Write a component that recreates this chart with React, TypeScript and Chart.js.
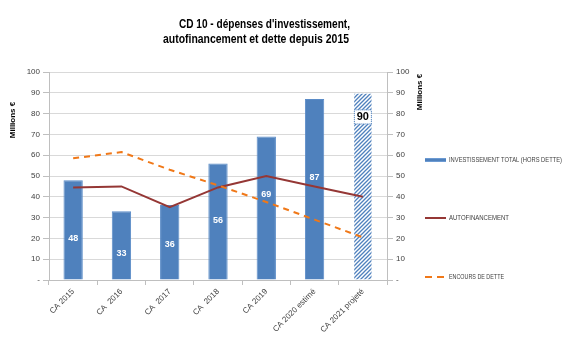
import { useEffect, useRef } from 'react';
import { Chart, registerables } from 'chart.js';
Chart.register(...registerables);

const categories = ['CA 2015', 'CA  2016', 'CA  2017', 'CA  2018', 'CA 2019', 'CA 2020 estimé', 'CA 2021 projeté'];
const investissement = [48, 33, 36, 56, 69, 87, 90];
const autofinancement = [44.5, 45, 35, 44.5, 50, 45, 40];
const encoursDette = [58.5, 61.5, 53, 45.5, 37.5, 29, 20.5];
const yTickValues = [0, 10, 20, 30, 40, 50, 60, 70, 80, 90, 100];
const titleLines = ["CD 10 - dépenses d'investissement,", 'autofinancement et dette depuis 2015'];
const legendLabels = ['INVESTISSEMENT TOTAL (HORS DETTE)', 'AUTOFINANCEMENT', 'ENCOURS DE DETTE'];
const axisTitle = 'Millions €';

// value-unit height at which each bar's label sits
const labelAnchors = [20, 13, 17.3, 28.8, 41.3, 49.5, 78.4];

const FONT = '"Liberation Sans", Arial, sans-serif';
const BLUE = '#4F81BD';
const RED = '#953735';
const ORANGE = '#F07818';

function makePattern(): CanvasPattern | string {
  const c = document.createElement('canvas');
  c.width = 4;
  c.height = 4;
  const g = c.getContext('2d');
  if (!g) return BLUE;
  g.fillStyle = '#ffffff';
  g.fillRect(0, 0, 4, 4);
  g.strokeStyle = BLUE;
  g.lineWidth = 1.3;
  g.beginPath();
  g.moveTo(-1, 5);
  g.lineTo(5, -1);
  g.moveTo(-1, 1);
  g.lineTo(1, -1);
  g.moveTo(3, 5);
  g.lineTo(5, 3);
  g.stroke();
  return g.createPattern(c, 'repeat') || BLUE;
}

const decorPlugin = {
  id: 'decor',
  afterDatasetsDraw(chart: any) {
    const ctx: CanvasRenderingContext2D = chart.ctx;
    const y = chart.scales.y;
    const meta = chart.getDatasetMeta(0);
    ctx.save();
    // bar labels
    meta.data.forEach((bar: any, i: number) => {
      const px = bar.x;
      const py = y.getPixelForValue(labelAnchors[i]);
      const txt = String(investissement[i]);
      if (i === investissement.length - 1) {
        ctx.fillStyle = '#ffffff';
        ctx.fillRect(px - 8.5, py - 7, 17, 14);
        ctx.setLineDash([1, 1]);
        ctx.strokeStyle = BLUE;
        ctx.lineWidth = 1;
        ctx.strokeRect(px - 8.5, py - 7, 17, 14);
        ctx.setLineDash([]);
        ctx.fillStyle = '#000000';
        ctx.font = `bold 11px ${FONT}`;
      } else {
        ctx.fillStyle = '#ffffff';
        ctx.font = `bold 9px ${FONT}`;
      }
      ctx.textAlign = 'center';
      ctx.textBaseline = 'middle';
      ctx.fillText(txt, px, py + 0.5);
    });
    ctx.restore();
  },
  afterDraw(chart: any) {
    const ctx: CanvasRenderingContext2D = chart.ctx;
    ctx.save();
    // title
    ctx.fillStyle = '#000000';
    ctx.font = `bold 12px ${FONT}`;
    ctx.textAlign = 'left';
    ctx.textBaseline = 'middle';
    ctx.fillText(titleLines[0], 179, 25, 171);
    ctx.fillText(titleLines[1], 163, 40, 186);

    // axis titles
    ctx.font = `bold 8px ${FONT}`;
    ctx.fillStyle = '#000000';
    ctx.save();
    ctx.translate(13, 120);
    ctx.rotate(-Math.PI / 2);
    ctx.textAlign = 'center';
    ctx.fillText(axisTitle, 0, 0);
    ctx.restore();
    ctx.save();
    ctx.translate(420, 92);
    ctx.rotate(-Math.PI / 2);
    ctx.textAlign = 'center';
    ctx.fillText(axisTitle, 0, 0);
    ctx.restore();

    // legend
    const lx0 = 425;
    const lx1 = 446;
    const ys = [160, 218, 277];
    // bar marker
    ctx.fillStyle = '#6C9AD2';
    ctx.fillRect(lx0, ys[0] - 2, lx1 - lx0, 4);
    ctx.fillStyle = BLUE;
    ctx.fillRect(lx0, ys[0] - 1, lx1 - lx0, 2);
    // autofinancement
    ctx.strokeStyle = RED;
    ctx.lineWidth = 2;
    ctx.beginPath();
    ctx.moveTo(lx0, ys[1]);
    ctx.lineTo(lx1, ys[1]);
    ctx.stroke();
    // encours
    ctx.strokeStyle = ORANGE;
    ctx.beginPath();
    ctx.moveTo(lx0, ys[2]);
    ctx.lineTo(lx0 + 7, ys[2]);
    ctx.moveTo(lx0 + 12, ys[2]);
    ctx.lineTo(lx0 + 19, ys[2]);
    ctx.stroke();

    ctx.fillStyle = '#404040';
    ctx.font = `7px ${FONT}`;
    ctx.textAlign = 'left';
    ctx.textBaseline = 'middle';
    ctx.fillText(legendLabels[0], 449, ys[0], 113);
    ctx.fillText(legendLabels[1], 449, ys[1], 60);
    ctx.fillText(legendLabels[2], 449, ys[2], 55);
    ctx.restore();
  },
};

export default function App() {
  const ref = useRef<HTMLCanvasElement>(null);
  useEffect(() => {
    if (!ref.current) return;
    const hatch = makePattern();
    const barColors = investissement.map((_, i) => (i === investissement.length - 1 ? hatch : BLUE));
    const barBorders = investissement.map((_, i) => (i === investissement.length - 1 ? 'rgba(0,0,0,0)' : '#5B8CC8'));
    const tickCb = (v: any) => (Number(v) === 0 ? '-' : String(v));
    const chart = new Chart(ref.current, {
      type: 'bar',
      data: {
        labels: categories,
        datasets: [
          {
            type: 'bar',
            label: legendLabels[0],
            data: investissement,
            backgroundColor: barColors as any,
            borderColor: barBorders,
            borderWidth: 1,
            barPercentage: 0.4,
            categoryPercentage: 1,
            order: 2,
            yAxisID: 'y',
          },
          {
            type: 'line',
            label: legendLabels[1],
            data: autofinancement,
            borderColor: RED,
            borderWidth: 2,
            pointRadius: 0,
            tension: 0,
            fill: false,
            order: 1,
            yAxisID: 'y',
          },
          {
            type: 'line',
            label: legendLabels[2],
            data: encoursDette,
            borderColor: ORANGE,
            borderWidth: 2,
            borderDash: [6, 5],
            pointRadius: 0,
            tension: 0,
            fill: false,
            order: 0,
            yAxisID: 'y',
          },
        ],
      },
      options: {
        animation: false,
        responsive: false,
        maintainAspectRatio: false,
        layout: { padding: { left: 0, top: 72, right: 153, bottom: 0 } },
        plugins: { legend: { display: false }, title: { display: false }, tooltip: { enabled: false } },
        scales: {
          x: {
            offset: true,
            grid: { offset: true, drawOnChartArea: false, drawTicks: true, tickLength: 5, color: '#bfbfbf' },
            border: { color: '#bfbfbf' },
            ticks: {
              autoSkip: false,
              maxRotation: 45,
              minRotation: 45,
              padding: 2,
              color: '#404040',
              font: { family: FONT, size: 8 },
            },
            afterFit: (s: any) => {
              s.height = 62;
            },
          },
          y: {
            position: 'left',
            min: 0,
            max: 100,
            afterBuildTicks: (s: any) => {
              s.ticks = yTickValues.map((v) => ({ value: v }));
            },
            grid: { color: '#d9d9d9', tickLength: 6, tickColor: '#bfbfbf' },
            border: { color: '#bfbfbf' },
            ticks: { callback: tickCb, color: '#404040', padding: 3, font: { family: FONT, size: 8 } },
            afterFit: (s: any) => {
              s.width = 49;
            },
          },
          y1: {
            position: 'right',
            min: 0,
            max: 100,
            afterBuildTicks: (s: any) => {
              s.ticks = yTickValues.map((v) => ({ value: v }));
            },
            grid: { drawOnChartArea: false, tickLength: 6, color: '#bfbfbf' },
            border: { color: '#bfbfbf' },
            ticks: { callback: tickCb, color: '#404040', padding: 3, font: { family: FONT, size: 8 } },
            afterFit: (s: any) => {
              s.width = 30;
            },
          },
        },
      },
      plugins: [decorPlugin],
    });
    return () => chart.destroy();
  }, []);
  return (
    <div style={{ position: 'fixed', left: 0, top: 0, width: 570, height: 342, background: '#ffffff' }}>
      <canvas ref={ref} width={570} height={342} />
    </div>
  );
}
